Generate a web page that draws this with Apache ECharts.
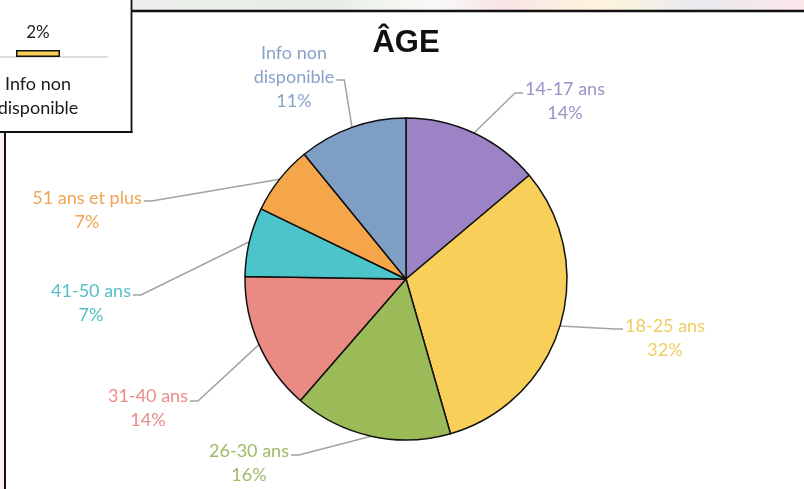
<!DOCTYPE html>
<html>
<head>
<meta charset="utf-8">
<script src="https://cdn.jsdelivr.net/npm/echarts@6/dist/echarts.min.js"></script>
<style>
  html, body { margin: 0; padding: 0; background: #ffffff; }
  #chart { width: 804px; height: 489px; }
</style>
</head>
<body>
<div id="chart"></div>
<script>
// Age groups (share of respondents, %)
const ageGroups = ['14-17 ans', '18-25 ans', '26-30 ans', '31-40 ans', '41-50 ans', '51 ans et plus', 'Info non\ndisponible'];
const ageShares = [14, 32, 16, 14, 7, 7, 11];
const sliceColors = ['#9B83C6', '#F8CF58', '#9BBB59', '#E98A83', '#4BC5CA', '#F5A54A', '#7F9EC3'];
const labelColors = ['#9E90C9', '#F0CD62', '#9FBB66', '#EA8C87', '#55C0C8', '#EFA354', '#88A2CB'];

// Neighbouring panel: last category of the previous breakdown
const sideCategories = ['Info non\ndisponible'];
const sideShares = [2];

// Where each label block sits and the height at which its leader line meets it
const labelSpots = [
  { x: 565, y: 101, side: 'left',  lineY: 93 },
  { x: 665, y: 338, side: 'left',  lineY: 329 },
  { x: 249, y: 463, side: 'right', lineY: 455 },
  { x: 148, y: 408, side: 'right', lineY: 401 },
  { x: 91,  y: 303, side: 'right', lineY: 295 },
  { x: 87,  y: 210, side: 'right', lineY: 201 },
  { x: 294, y: 77,  side: 'right', lineY: 80 }
];

const FONT = 'Lato, "Open Sans", sans-serif';

const chart = echarts.init(document.getElementById('chart'), null, { renderer: 'canvas' });

const option = {
  backgroundColor: '#ffffff',
  animation: false,
  title: {
    text: 'ÂGE',
    left: 401,
    textAlign: 'center',
    top: 23,
    textStyle: { fontFamily: '"Liberation Sans", Arial, sans-serif', fontWeight: 'bold', fontSize: 31, color: '#111111' }
  },
  graphic: [
    // slide backdrop strip above the frame
    {
      type: 'rect', z: -10, silent: true,
      shape: { x: 131, y: 0, width: 673, height: 10 },
      style: {
        fill: new echarts.graphic.LinearGradient(0, 0, 1, 0, [
          { offset: 0.00, color: '#ECEEEB' },
          { offset: 0.30, color: '#E7EEE6' },
          { offset: 0.45, color: '#FAFAF8' },
          { offset: 0.55, color: '#F7E4E7' },
          { offset: 0.70, color: '#FFF5DC' },
          { offset: 0.84, color: '#E8EAEE' },
          { offset: 1.00, color: '#FCE7EB' }
        ])
      }
    },
    { type: 'rect', z: -10, silent: true, shape: { x: 0, y: 133, width: 4, height: 356 }, style: { fill: '#FBEFF1' } },
    // frame lines
    { type: 'line', z: 10, silent: true, shape: { x1: 131, y1: 11, x2: 804, y2: 11 }, style: { stroke: '#111111', lineWidth: 2.5 } },
    { type: 'line', z: 10, silent: true, shape: { x1: 5, y1: 133, x2: 5, y2: 489 }, style: { stroke: '#111111', lineWidth: 2 } },
    { type: 'line', z: 10, silent: true, shape: { x1: 131.5, y1: 0, x2: 131.5, y2: 133 }, style: { stroke: '#111111', lineWidth: 1.8 } },
    { type: 'line', z: 10, silent: true, shape: { x1: 0, y1: 132, x2: 132.5, y2: 132 }, style: { stroke: '#111111', lineWidth: 1.8 } }
  ],
  grid: {
    left: -32, top: -83, width: 140, height: 140,
    outerBoundsMode: 'none'
  },
  xAxis: {
    type: 'category',
    data: sideCategories,
    axisTick: { show: false },
    axisLine: { lineStyle: { color: '#D4D4D4', width: 1.5 } },
    axisLabel: { margin: 15, fontFamily: FONT, fontSize: 18, lineHeight: 24, color: '#1A1A1A', interval: 0 }
  },
  yAxis: {
    type: 'value', min: 0, max: 40, show: false, splitLine: { show: false }
  },
  series: [
    {
      type: 'bar',
      data: sideShares,
      barWidth: 44,
      itemStyle: { color: '#F8CF58', borderColor: '#111111', borderWidth: 1.5 },
      label: {
        show: true, position: 'top', distance: 9,
        formatter: p => p.value + '%',
        fontFamily: FONT, fontSize: 17, color: '#222222'
      }
    },
    {
      type: 'pie',
      center: [406, 279],
      radius: 161,
      startAngle: 90,
      clockwise: true,
      avoidLabelOverlap: false,
      data: ageShares.map((v, i) => ({
        name: ageGroups[i],
        value: v,
        itemStyle: { color: sliceColors[i] },
        label: { color: labelColors[i] }
      })),
      itemStyle: { borderColor: '#111111', borderWidth: 1.5 },
      label: {
        show: true,
        position: 'outside',
        formatter: p => p.name + '\n' + p.value + '%',
        fontFamily: FONT, fontSize: 18, lineHeight: 24, align: 'center'
      },
      labelLine: {
        show: true, length: 10, length2: 10,
        lineStyle: { color: '#A3A3A3', width: 1.5 }
      },
      labelLayout: function (params) {
        const s = labelSpots[params.dataIndex];
        const w = params.labelRect.width;
        const pts = params.labelLinePoints;
        const start = pts && pts[0] ? pts[0] : [406, 279];
        const dir = s.side === 'left' ? -1 : 1;
        const endX = s.x + dir * (w / 2 + 2);
        const elbowX = endX + dir * 8;
        return {
          x: s.x, y: s.y, align: 'center', verticalAlign: 'middle',
          labelLinePoints: [start, [elbowX, s.lineY], [endX, s.lineY]]
        };
      }
    }
  ]
};

chart.setOption(option);
</script>
</body>
</html>
